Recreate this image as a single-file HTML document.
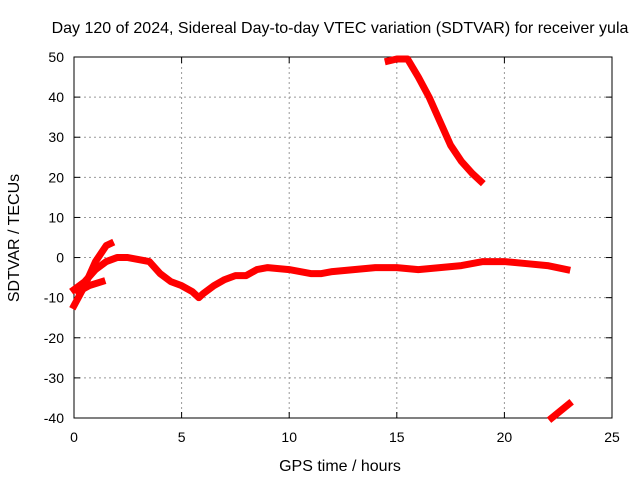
<!DOCTYPE html>
<html><head><meta charset="utf-8"><style>
body{margin:0;background:#fff;}
svg text{font-family:"Liberation Sans",sans-serif;font-size:14px;fill:#000;}
svg text.big{font-size:16px;}
</style></head><body>
<svg id="chart" width="640" height="480">
<rect x="0" y="0" width="640" height="480" fill="#fff"/>
<text class="big" x="340" y="33" text-anchor="middle">Day 120 of 2024, Sidereal Day-to-day VTEC variation (SDTVAR) for receiver yula</text>
<text class="big" x="340" y="471" text-anchor="middle">GPS time / hours</text>
<text class="big" transform="translate(19,238) rotate(-90)" text-anchor="middle">SDTVAR / TECUs</text>
<g id="grid"></g><g id="axes"></g><g id="series"></g>
</svg>
<script>
const xTicks=[0,5,10,15,20,25];
const yTicks=[-40,-30,-20,-10,0,10,20,30,40,50];
const mainT=[0,0.5,1,1.5,2,2.5,3,3.5,4,4.5,5,5.5,5.8,6,6.5,7,7.5,8,8.5,9,10,11,11.5,12,13,14,15,16,17,18,19,20,21,22,22.9];
const mainV=[-8,-6,-3,-1,0,0,-0.5,-1,-4,-6,-7,-8.5,-10,-9,-7,-5.5,-4.5,-4.5,-3,-2.5,-3,-4,-4,-3.5,-3,-2.5,-2.5,-3,-2.5,-2,-1,-1,-1.5,-2,-3];
const topT=[14.6,15,15.5,16,16.5,17,17.5,18,18.5,18.9];
const topV=[49,49.5,49.5,45,40,34,28,24,21,19];
const botT=[22.2,23];
const botV=[-40,-36.5];
const riseT=[0,0.5,1,1.5,1.7];
const riseV=[-12,-7,-1,3,3.5];
const shortT=[0.2,0.7,1.3];
const shortV=[-8.5,-7,-6];
const X0=74,X1=612,Y0=418,Y1=57;
function sx(t){return X0+(t-0)/(25-0)*(X1-X0);}
function sy(v){return Y0-(v+40)/(90)*(Y0-Y1);}
const NS="http://www.w3.org/2000/svg";
function mk(tag,attrs,parent){const e=document.createElementNS(NS,tag);for(const k in attrs)e.setAttribute(k,attrs[k]);parent.appendChild(e);return e;}
const grid=document.getElementById('grid'),axes=document.getElementById('axes'),ser=document.getElementById('series');
xTicks.forEach(t=>{
 if(t>0&&t<25){const l=mk('line',{x1:sx(t),x2:sx(t),y1:Y1,y2:Y0,stroke:'#999','stroke-dasharray':'2,3'},grid);
 
 }
 const tx=mk('text',{x:sx(t),y:Y0+24,'text-anchor':'middle'},axes);tx.textContent=t;
 
 
 mk('line',{x1:sx(t),x2:sx(t),y1:Y0,y2:Y0-6,stroke:'#000'},axes);
 mk('line',{x1:sx(t),x2:sx(t),y1:Y1,y2:Y1+6,stroke:'#000'},axes);
});
yTicks.forEach(v=>{
 if(v>-40&&v<50){const l=mk('line',{x1:X0,x2:X1,y1:sy(v),y2:sy(v),stroke:'#999','stroke-dasharray':'2,3'},grid);
 
 }
 const tx=mk('text',{x:X0-10,y:sy(v)+5,'text-anchor':'end'},axes);tx.textContent=v;
 
 
 mk('line',{x1:X0,x2:X0+6,y1:sy(v),y2:sy(v),stroke:'#000'},axes);
 mk('line',{x1:X1,x2:X1-6,y1:sy(v),y2:sy(v),stroke:'#000'},axes);
});
const fr=mk('rect',{x:X0,y:Y1,width:X1-X0,height:Y0-Y1,fill:'none',stroke:'#000'},axes);


function series(T,V,name){
 const pts=T.map((t,i)=>sx(t)+','+sy(V[i])).join(' ');
 const p=mk('polyline',{points:pts,fill:'none',stroke:'#f00','stroke-width':7,'stroke-linejoin':'round','stroke-linecap':'square'},ser);
 
 
}
series(mainT,mainV,'sdtvar-main-trace');
series(topT,topV,'sdtvar-high-trace');
series(botT,botV,'sdtvar-low-trace');
series(riseT,riseV,'sdtvar-rise-trace');
series(shortT,shortV,'sdtvar-short-trace');
</script>
</body></html>
